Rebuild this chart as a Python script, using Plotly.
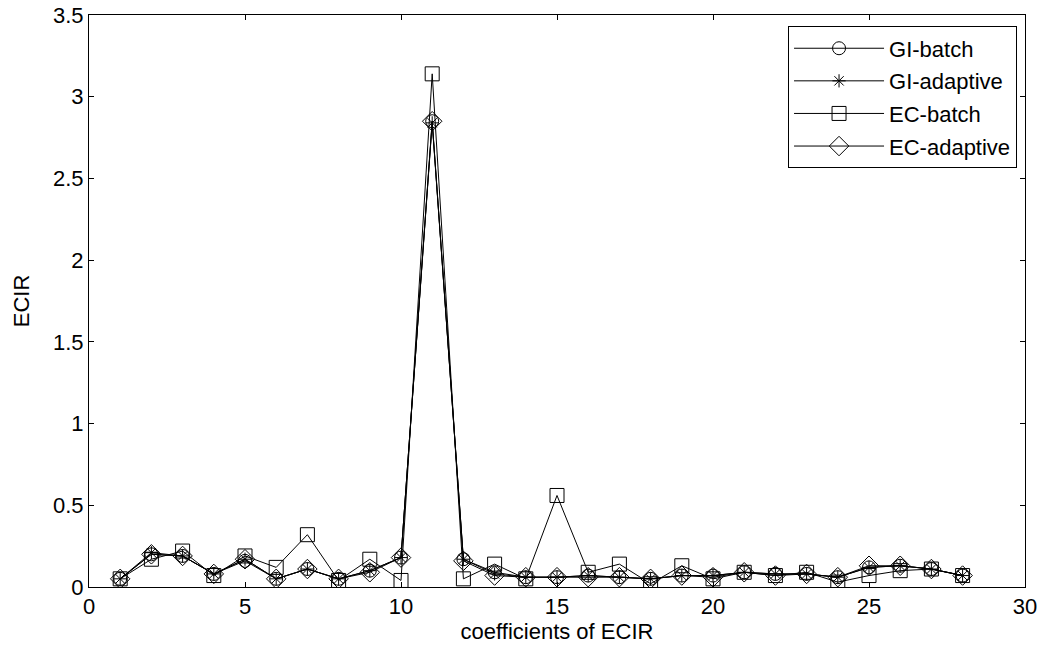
import plotly.graph_objects as go

coef = list(range(1, 29))
gi_batch = [0.05, 0.20, 0.19, 0.08, 0.16, 0.05, 0.11, 0.05, 0.10, 0.18, 2.85, 0.17, 0.09, 0.06,
            0.06, 0.07, 0.06, 0.05, 0.07, 0.07, 0.09, 0.08, 0.08, 0.06, 0.12, 0.13, 0.11, 0.07]
gi_adaptive = [0.05, 0.21, 0.19, 0.08, 0.17, 0.05, 0.11, 0.05, 0.10, 0.18, 2.84, 0.17, 0.08, 0.06,
               0.06, 0.07, 0.06, 0.05, 0.07, 0.07, 0.09, 0.08, 0.08, 0.06, 0.12, 0.13, 0.11, 0.07]
ec_batch = [0.05, 0.17, 0.22, 0.07, 0.19, 0.12, 0.32, 0.04, 0.17, 0.04, 3.14, 0.05, 0.14, 0.05,
            0.56, 0.09, 0.14, 0.02, 0.13, 0.05, 0.09, 0.07, 0.09, 0.03, 0.07, 0.10, 0.11, 0.07]
ec_adaptive = [0.05, 0.20, 0.19, 0.08, 0.17, 0.05, 0.11, 0.05, 0.09, 0.18, 2.85, 0.16, 0.07, 0.06,
               0.06, 0.06, 0.06, 0.05, 0.07, 0.06, 0.09, 0.07, 0.08, 0.06, 0.13, 0.13, 0.11, 0.07]

series = [
    ("GI-batch", gi_batch, "circle-open", 13),
    ("GI-adaptive", gi_adaptive, "asterisk-open", 11),
    ("EC-batch", ec_batch, "square-open", 14),
    ("EC-adaptive", ec_adaptive, "diamond-open", 15),
]

fig = go.Figure()
for i, (name, vals, sym, sz) in enumerate(series):
    fig.add_trace(go.Scatter(
        x=coef, y=vals, name=name, mode="lines+markers",
        line=dict(color="black", width=1),
        marker=dict(symbol=sym, size=sz, color="black", line=dict(color="black", width=1)),
        legendgroup=str(i),
    ))

font = dict(family="Liberation Sans, Arial, sans-serif", size=22, color="black")
axis_common = dict(
    showgrid=False, zeroline=False, showline=True, linecolor="black", linewidth=1,
    mirror="ticks", ticks="inside", ticklen=5, tickcolor="black", tickfont=font,
    automargin=False,
)
fig.update_layout(
    width=1049, height=652,
    margin=dict(l=89, r=24, t=15, b=65, autoexpand=False),
    paper_bgcolor="white", plot_bgcolor="white",
    font=font,
    xaxis=dict(range=[0, 30], dtick=5, tick0=0,
               title=dict(text="coefficients of ECIR", font=font, standoff=2), **axis_common),
    yaxis=dict(range=[0, 3.5], dtick=0.5, tick0=0,
               title=dict(text="ECIR", font=font, standoff=17), **axis_common),
    legend=dict(x=0.9915, xanchor="right", y=0.98, yanchor="top",
                bordercolor="black", borderwidth=1, bgcolor="white",
                font=font, tracegroupgap=1, itemwidth=90),
    showlegend=True,
)

fig.write_html("out.html")
